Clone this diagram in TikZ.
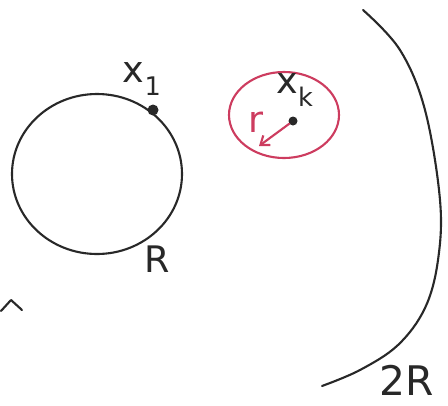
\documentclass[tikz,border=0pt]{standalone}
\usepackage{fontspec}
\setmainfont{DejaVu Sans}
\usetikzlibrary{arrows.meta}
\definecolor{ink}{RGB}{40,40,40}
\definecolor{redink}{RGB}{205,60,95}
\tikzset{
  pen/.style={draw=ink, line width=3pt, line cap=round, line join=round},
  redpen/.style={draw=redink, line width=3pt, line cap=round, line join=round},
  lab/.style={font=\fontsize{52}{58}\selectfont, text=ink, inner sep=0pt},
}
\begin{document}
\begin{tikzpicture}[x=0.05cm, y=-0.05cm]
\useasboundingbox (0,0) rectangle (448,405);
% left circle
\draw[pen] (97,174) ellipse [x radius=85, y radius=80];
\node[circle, fill=ink, minimum size=0.55cm, inner sep=0pt] (x1dot) at (153,110) {};
\node[lab] (x1) at (142,79) {x\textsubscript{1}};
\node[lab] (R) at (157,259) {R};
% red circle
\draw[redpen] (284,115) ellipse [x radius=55, y radius=43];
\node[circle, fill=ink, minimum size=0.45cm, inner sep=0pt] (xkdot) at (293,121) {};
\coordinate (rend) at (259,146);
\draw[redpen, -{Straight Barb[length=0.4cm, width=0.6cm]}] (xkdot) -- (rend);
\node[lab, text=redink] (r) at (256,122) {r};
\node[lab] (xk) at (295,90) {x\textsubscript{k}};
% big arc
\draw[pen] plot[smooth, tension=0.6] coordinates {(363,10) (400,50) (425,110) (440,200) (438,260) (425,308) (398,345) (360,370) (322,386)};
\node[lab, font=\fontsize{58}{64}\selectfont] (twoR) at (407,380) {2R};
% caret mark
\draw[pen] (1,311) -- (11,300) -- (22,310);
\end{tikzpicture}
\end{document}
